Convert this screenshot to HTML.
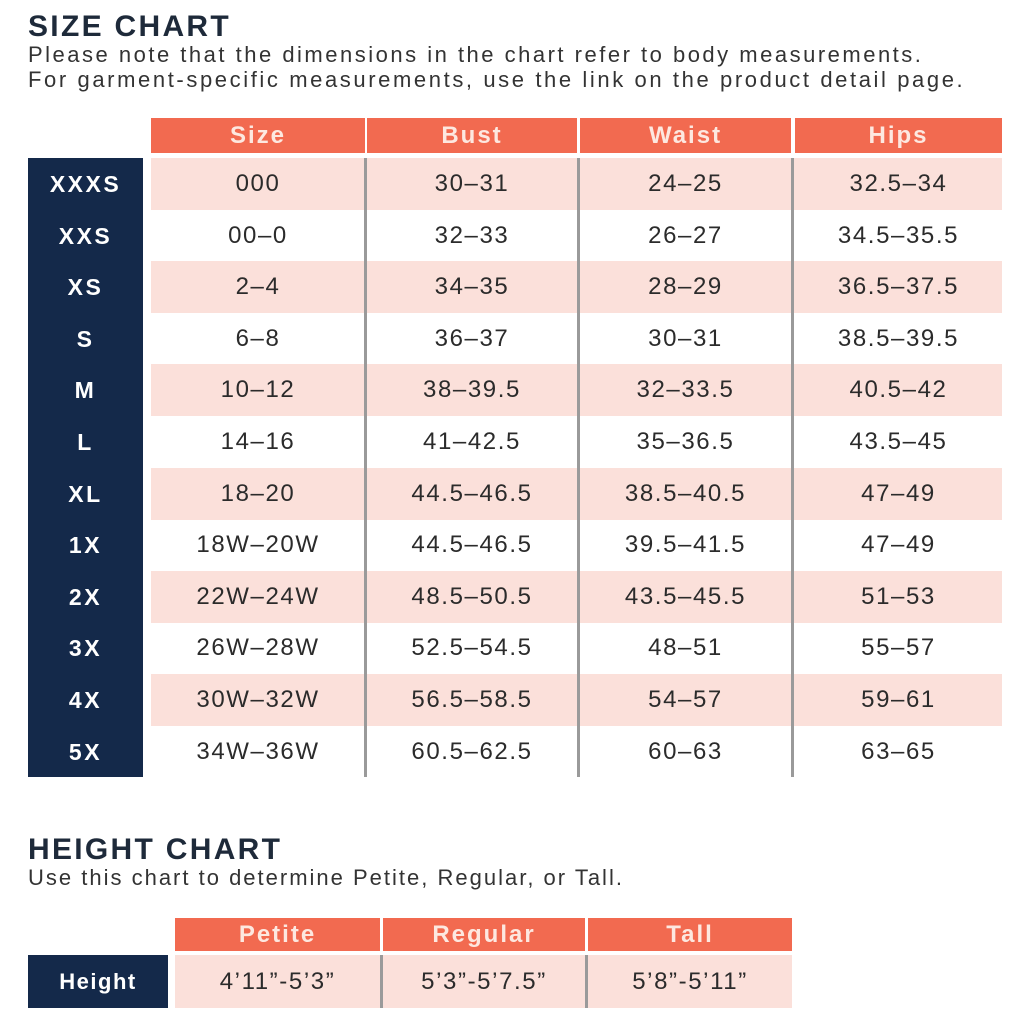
<!DOCTYPE html>
<html><head><style>
body{margin:0;width:1024px;height:1024px;background:#fff;font-family:"Liberation Sans",sans-serif;position:relative;overflow:hidden;color:#2b2b2b}
.a{position:absolute;white-space:nowrap}
.t{font-weight:bold;font-size:30px;color:#1e2a3a;letter-spacing:2.3px}
.s{font-size:22px;color:#333;letter-spacing:2.5px}
.h{background:#f26a50;color:#fde8e0;font-size:24px;font-weight:bold;text-align:center;line-height:35px;height:35px;letter-spacing:2px}
.n{background:#14294a}
.r{position:absolute;left:151px;width:851px;height:52px}
.c{position:absolute;text-align:center;font-size:24px;letter-spacing:1.6px;line-height:52px;white-space:nowrap}
.nv{position:absolute;left:28px;width:115px;text-align:center;color:#fff;font-weight:bold;font-size:23px;letter-spacing:2.5px;line-height:52px}
.v{position:absolute;width:3px;background:#9a9a9a}
</style></head><body>
<div class="a t" style="left:28px;top:10px">SIZE CHART</div>
<div class="a s" style="left:28px;top:42px">Please note that the dimensions in the chart refer to body measurements.</div>
<div class="a s" style="left:28px;top:67px;letter-spacing:2.6px">For garment-specific measurements, use the link on the product detail page.</div>
<div class="a h" style="left:151px;top:118px;width:214px">Size</div>
<div class="a h" style="left:367px;top:118px;width:210px">Bust</div>
<div class="a h" style="left:580px;top:118px;width:211px">Waist</div>
<div class="a h" style="left:795px;top:118px;width:207px">Hips</div>
<div class="a n" style="left:28px;top:158px;width:115px;height:619px"></div>
<div id="rows"></div>
<div class="v" style="left:364px;top:158px;height:619px"></div>
<div class="v" style="left:577px;top:158px;height:619px"></div>
<div class="v" style="left:791px;top:158px;height:619px"></div>
<div class="a t" style="left:28px;top:833px">HEIGHT CHART</div>
<div class="a s" style="left:28px;top:865px;letter-spacing:2px">Use this chart to determine Petite, Regular, or Tall.</div>
<div class="a h" style="left:175px;top:918px;width:205px;height:33px;line-height:33px">Petite</div>
<div class="a h" style="left:383px;top:918px;width:202px;height:33px;line-height:33px">Regular</div>
<div class="a h" style="left:588px;top:918px;width:204px;height:33px;line-height:33px">Tall</div>
<div class="a n" style="left:28px;top:955px;width:140px;height:53px;color:#fff;font-weight:bold;font-size:22px;letter-spacing:1.5px;text-align:center;line-height:53px">Height</div>
<div class="a" style="left:175px;top:955px;width:617px;height:53px;background:#fbe0da"></div>
<div class="c" style="left:175px;top:955px;width:205px;line-height:53px">4’11”-5’3”</div>
<div class="c" style="left:383px;top:955px;width:202px;line-height:53px">5’3”-5’7.5”</div>
<div class="c" style="left:588px;top:955px;width:204px;line-height:53px">5’8”-5’11”</div>
<div class="v" style="left:380px;top:955px;height:53px"></div>
<div class="v" style="left:585px;top:955px;height:53px"></div>
<script>
var d=[["XXXS","000","30-31","24-25","32.5-34"],["XXS","00-0","32-33","26-27","34.5-35.5"],["XS","2-4","34-35","28-29","36.5-37.5"],["S","6-8","36-37","30-31","38.5-39.5"],["M","10-12","38-39.5","32-33.5","40.5-42"],["L","14-16","41-42.5","35-36.5","43.5-45"],["XL","18-20","44.5-46.5","38.5-40.5","47-49"],["1X","18W-20W","44.5-46.5","39.5-41.5","47-49"],["2X","22W-24W","48.5-50.5","43.5-45.5","51-53"],["3X","26W-28W","52.5-54.5","48-51","55-57"],["4X","30W-32W","56.5-58.5","54-57","59-61"],["5X","34W-36W","60.5-62.5","60-63","63-65"]];
var cols=[[151,214],[367,210],[580,211],[795,207]],h="";
d.forEach(function(r,i){var y=158+i*51.6;
if(i%2==0)h+='<div class="r" style="top:'+y+'px;background:#fbe0da"></div>';
h+='<div class="nv" style="top:'+y+'px">'+r[0]+'</div>';
for(var j=0;j<4;j++)h+='<div class="c" style="left:'+cols[j][0]+'px;width:'+cols[j][1]+'px;top:'+y+'px">'+r[j+1].replace('-','–')+'</div>';});
document.getElementById('rows').innerHTML=h;
</script>
</body></html>
